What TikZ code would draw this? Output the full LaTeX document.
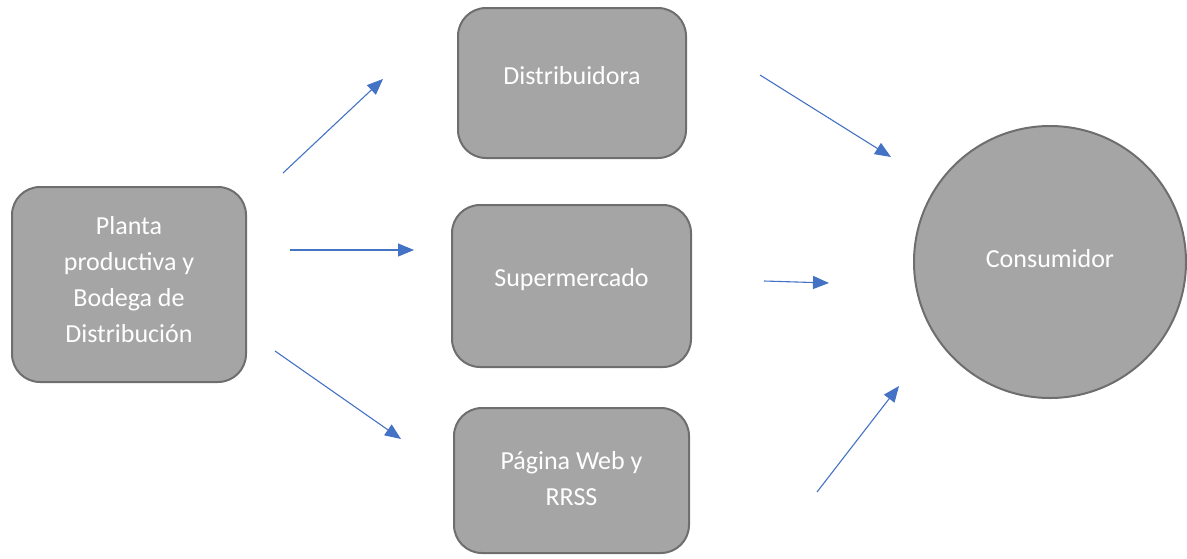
\documentclass[tikz,border=0pt]{standalone}
\usepackage{fontspec}
\setmainfont{Carlito}
\usetikzlibrary{arrows.meta}
\definecolor{boxfill}{HTML}{A5A5A5}
\definecolor{boxline}{HTML}{6E6E6E}
\definecolor{arrowblue}{HTML}{4472C4}
\tikzset{
  box/.style={draw=boxline, line width=2pt, fill=boxfill, rounded corners=28pt,
    text=white, align=center, font=\fontsize{26}{36}\selectfont, inner sep=0pt},
  circ/.style={draw=boxline, line width=2pt, fill=boxfill, circle,
    text=white, align=center, font=\fontsize{26}{36}\selectfont, inner sep=0pt},
  flow/.style={draw=arrowblue, line width=1.1pt, -{Triangle[length=16pt,width=13pt]}}
}
\begin{document}
\begin{tikzpicture}[x=1pt,y=-1pt]
\useasboundingbox (0,0) rectangle (1187,558);
\node[box, minimum width=234pt, minimum height=195pt, text depth=11pt] (planta) at (129,284.5)
  {Planta\\productiva y\\Bodega de\\Distribución};
\node[box, minimum width=228pt, minimum height=150pt, text depth=16pt] (dist) at (572,83) {Distribuidora};
\node[box, minimum width=239pt, minimum height=162pt, text depth=17pt] (super) at (571.5,286) {Supermercado};
\node[box, minimum width=235pt, minimum height=145pt, text depth=5pt] (web) at (571.5,480.5) {Página Web y\\RRSS};
\node[circ, minimum size=272pt, text depth=8pt] (cons) at (1050,262) {Consumidor};
% free-floating arrow end points
\coordinate (a1s) at (283,173); \coordinate (a1e) at (383,79);
\coordinate (a2s) at (290,250); \coordinate (a2e) at (414,250);
\coordinate (a3s) at (275,351); \coordinate (a3e) at (401,439);
\coordinate (a4s) at (760,75);  \coordinate (a4e) at (891,157);
\coordinate (a5s) at (764,281); \coordinate (a5e) at (829,283);
\coordinate (a6s) at (817,492); \coordinate (a6e) at (899,386);
\draw[flow] (a1s) -- (a1e);
\draw[flow] (a2s) -- (a2e);
\draw[flow] (a3s) -- (a3e);
\draw[flow] (a4s) -- (a4e);
\draw[flow] (a5s) -- (a5e);
\draw[flow] (a6s) -- (a6e);
\end{tikzpicture}
\end{document}
